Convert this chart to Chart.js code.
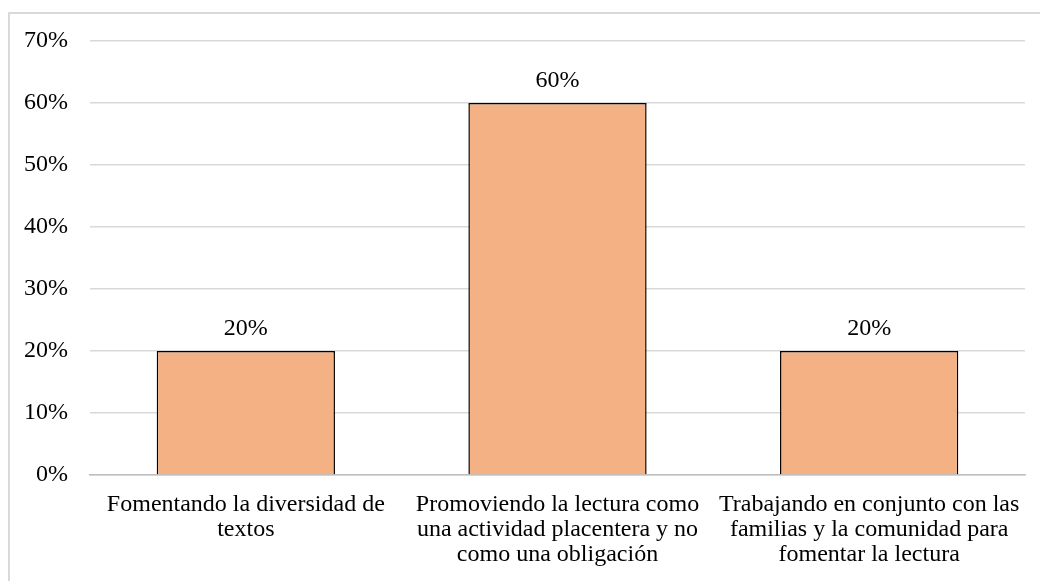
<!DOCTYPE html>
<html>
<head>
<meta charset="utf-8">
<script src="https://cdn.jsdelivr.net/npm/chart.js@4/dist/chart.umd.min.js"></script>
<style>
  html, body { margin: 0; padding: 0; background: #fff; }
  #wrap { position: relative; width: 1040px; height: 581px; overflow: hidden; }
  #frame { position: absolute; left: 8px; top: 12px; width: 1100px; height: 700px; border-left: 2px solid #d9d9d9; border-top: 2px solid #d9d9d9; box-sizing: border-box; }
  canvas { position: absolute; left: 0; top: 0; }
</style>
</head>
<body>
<div id="wrap">
  <div id="frame"></div>
  <canvas id="c" width="1040" height="581"></canvas>
</div>
<script>
const categories = [
  ["Fomentando la diversidad de", "textos"],
  ["Promoviendo la lectura como", "una actividad placentera y no", "como una obligación"],
  ["Trabajando en conjunto con las", "familias y la comunidad para", "fomentar la lectura"]
];
const values = [20, 60, 20];
const valueLabels = ["20%", "60%", "20%"];

const FONT = "'Liberation Serif', 'Times New Roman', serif";

const dataLabelPlugin = {
  id: 'dataLabels',
  afterDatasetsDraw(chart) {
    const ctx = chart.ctx;
    const meta = chart.getDatasetMeta(0);
    ctx.save();
    ctx.font = "24px " + FONT;
    ctx.fillStyle = "#000";
    ctx.textAlign = "center";
    ctx.textBaseline = "alphabetic";
    meta.data.forEach((bar, i) => {
      ctx.fillText(valueLabels[i], bar.x, bar.y - 16);
    });
    ctx.restore();
  }
};

new Chart(document.getElementById('c'), {
  type: 'bar',
  data: {
    labels: categories,
    datasets: [{
      data: values,
      backgroundColor: '#F4B183',
      borderColor: '#000000',
      borderWidth: 1.5,
      categoryPercentage: 1.0,
      barPercentage: 0.572
    }]
  },
  options: {
    responsive: false,
    animation: false,
    devicePixelRatio: 1,
    layout: { padding: { top: 41, right: 15, bottom: 0, left: 0 } },
    plugins: { legend: { display: false }, tooltip: { enabled: false } },
    scales: {
      x: {
        grid: { display: false, drawTicks: false },
        border: { display: true, color: '#bfbfbf', width: 1.5 },
        ticks: {
          color: '#000',
          font: { family: FONT, size: 24, lineHeight: 1.04 },
          padding: 17,
          maxRotation: 0,
          autoSkip: false
        },
        afterFit(scale) { scale.height = 106; }
      },
      y: {
        min: 0,
        max: 70,
        grid: { color: '#d9d9d9', lineWidth: 1.5, drawTicks: false },
        border: { display: false },
        ticks: {
          stepSize: 10,
          color: '#000',
          font: { family: FONT, size: 24 },
          padding: 22,
          callback: (v) => v + '%'
        },
        afterFit(scale) { scale.width = 90; }
      }
    }
  },
  plugins: [dataLabelPlugin]
});
</script>
</body>
</html>
